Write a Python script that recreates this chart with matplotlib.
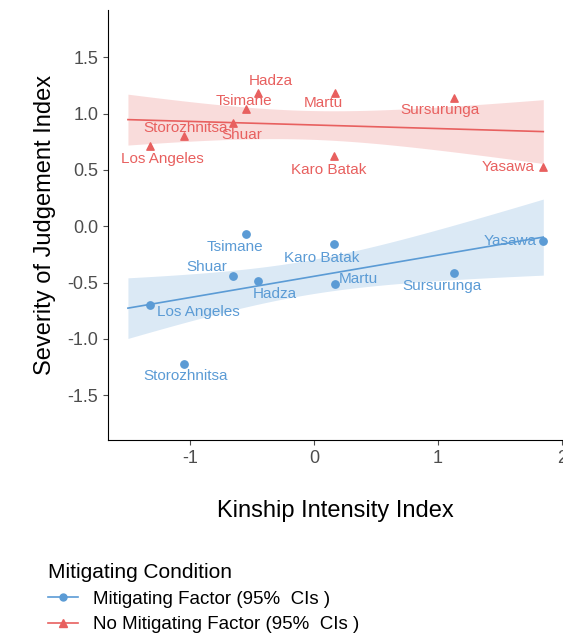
import numpy as np
import matplotlib
matplotlib.use("Agg")
import matplotlib.pyplot as plt
from matplotlib.lines import Line2D

plt.rcParams['font.family'] = ['Liberation Sans', 'DejaVu Sans']

societies = ["Los Angeles", "Storozhnitsa", "Shuar", "Tsimane", "Hadza", "Martu", "Karo Batak", "Sursurunga", "Yasawa"]
kinship = [-1.32, -1.05, -0.65, -0.55, -0.45, 0.17, 0.16, 1.13, 1.85]
no_mitig = [0.71, 0.80, 0.92, 1.04, 1.18, 1.18, 0.62, 1.14, 0.53]
mitig = [-0.70, -1.22, -0.44, -0.07, -0.49, -0.51, -0.16, -0.42, -0.13]

red = "#E8605F"; blue = "#5B9BD5"
red_off = {"Los Angeles": (9, -9), "Storozhnitsa": (1, 6), "Shuar": (6, -9), "Tsimane": (-1, 6),
           "Hadza": (9, 9), "Martu": (-8, -7), "Karo Batak": (-4, -10), "Sursurunga": (-10, -9), "Yasawa": (-25, 0)}
blue_off = {"Los Angeles": (35, -5), "Storozhnitsa": (1, -9), "Shuar": (-19, 6), "Tsimane": (-8, -9),
            "Hadza": (12, -9), "Martu": (17, 3), "Karo Batak": (-9, -10), "Sursurunga": (-9, -9), "Yasawa": (-24, 0)}

fig = plt.figure(figsize=(5.63, 6.35), dpi=100)
ax = fig.add_axes([0.192, 0.307, 0.806, 0.677])
x = np.array(kinship)
xs = np.linspace(-1.5, 1.85, 100)
for ys, col, mk, offs in [(no_mitig, red, '^', red_off), (mitig, blue, 'o', blue_off)]:
    y = np.array(ys)
    b, a = np.polyfit(x, y, 1)
    res = y - (a + b * x)
    n = len(x); s = np.sqrt(np.sum(res**2) / (n - 2))
    se = s * np.sqrt(1 / n + (xs - x.mean())**2 / np.sum((x - x.mean())**2))
    fit = a + b * xs
    ax.fill_between(xs, fit - 1.45 * se, fit + 1.45 * se, color=col, alpha=0.22, lw=0)
    ax.plot(xs, fit, color=col, lw=1.2)
    ax.scatter(x, y, marker=mk, color=col, s=28, zorder=3)
    for nm, xi, yi in zip(societies, x, y):
        dx, dy = offs[nm]
        ax.annotate(nm, (xi, yi), xytext=(dx, dy), textcoords='offset points', ha='center', va='center',
                    color=col, fontsize=11)

ax.set_xlim(-1.66, 1.98)
ax.set_ylim(-1.9, 1.92)
ax.set_xticks([-1, 0, 1, 2]); ax.set_xticklabels(["-1", "0", "1", "2"])
ax.set_yticks([-1.5, -1.0, -0.5, 0.0, 0.5, 1.0, 1.5])
ax.set_yticklabels(["-1.5", "-1.0", "-0.5", "0.0", "0.5", "1.0", "1.5"])
for sp in ['top', 'right']:
    ax.spines[sp].set_visible(False)
ax.tick_params(labelsize=13, colors='#4d4d4d')
ax.set_xlabel("Kinship Intensity Index", fontsize=17, labelpad=24)
ax.set_ylabel("Severity of Judgement Index", fontsize=17, labelpad=8)

handles = [Line2D([0], [0], color=blue, marker='o', markersize=5, lw=1.2),
           Line2D([0], [0], color=red, marker='^', markersize=6, lw=1.2)]
fig.legend(handles, ["Mitigating Factor (95%  CIs )", "No Mitigating Factor (95%  CIs )"],
           title="Mitigating Condition", loc='upper left', bbox_to_anchor=(0.055, 0.14),
           frameon=False, fontsize=13.5, title_fontsize=15, alignment='left', handlelength=1.6,
           labelspacing=0.45)
fig.legend_ = None
fig.savefig("out.png", dpi=100)
